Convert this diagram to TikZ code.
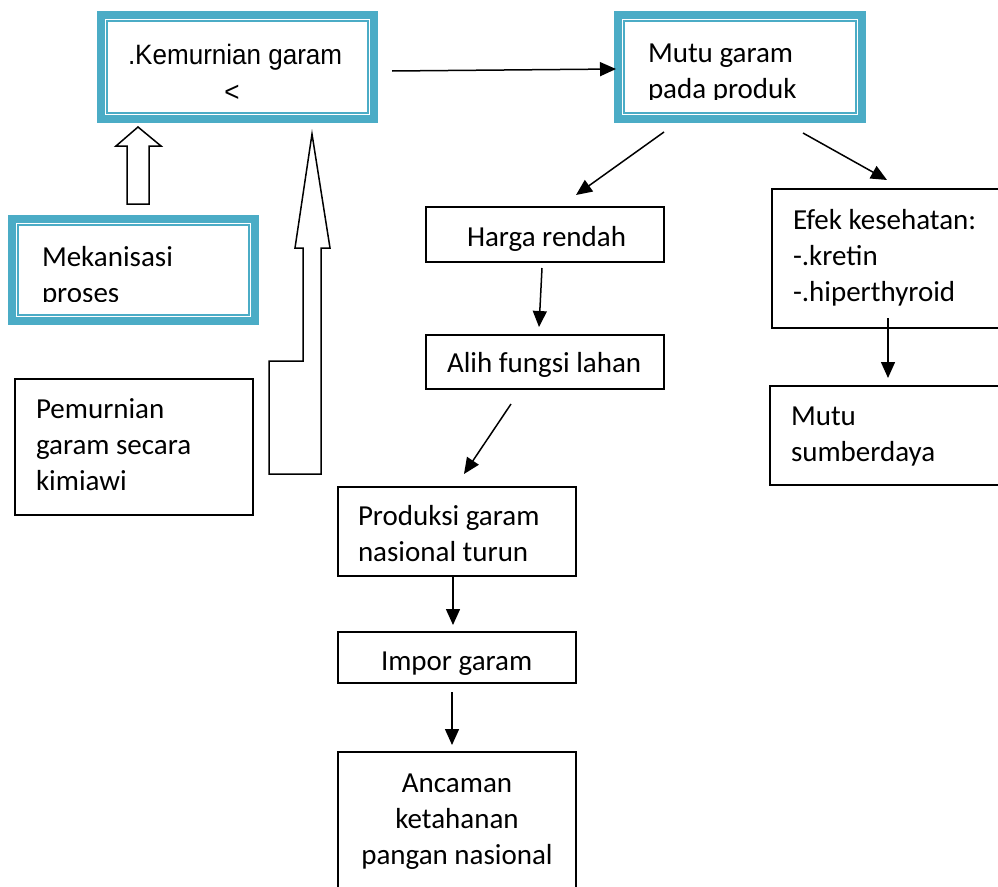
\documentclass[tikz,border=0pt]{standalone}
\usepackage{fontspec}
\setmainfont{Carlito}
\newfontfamily\arialfont[FakeStretch=0.93]{Liberation Sans}
\usetikzlibrary{arrows.meta}
\definecolor{tealA}{HTML}{4BACC6}
\tikzset{
  box/.style={draw=black, line width=1.5pt, inner sep=0pt, outer sep=0pt, fill=white},
  tealbox/.style={draw=tealA, line width=8pt, inner sep=0pt, outer sep=0pt, fill=white},
  tealinner/.style={draw=tealA, line width=1.6pt},
  txt/.style={inner sep=0pt, outer sep=0pt, anchor=base west, font=\fontsize{29}{36}\selectfont},
  ctxt/.style={inner sep=0pt, outer sep=0pt, anchor=base, font=\fontsize{29}{36}\selectfont},
  atxt/.style={inner sep=0pt, outer sep=0pt, anchor=base west, font=\arialfont\fontsize{28}{36}\selectfont},
  conn/.style={line width=1.5pt, -{Triangle[length=16pt,width=14pt]}},
  blockarrow/.style={draw=black, line width=1.5pt, fill=white, line join=miter},
}
\begin{document}
\begin{tikzpicture}[x=1pt,y=-1pt]
\clip (0,0) rectangle (998,886);
\fill[white] (0,0) rectangle (998,886);

% teal framed boxes
\node[tealbox, minimum width=273pt, minimum height=104pt] (kem) at (237.5,67) {};
\draw[tealinner] ([shift={(6.2,6.2)}]kem.north west) rectangle ([shift={(-6.2,-6.2)}]kem.south east);
\node[atxt] (kem-t1) at (128,64) {.Kemurnian garam};
\node[inner sep=0pt, anchor=base, font=\arialfont\fontsize{28}{36}\selectfont] (kem-t2) at (232,101) {<};

\node[tealbox, minimum width=244pt, minimum height=104pt] (mutu) at (740,67) {};
\draw[tealinner] ([shift={(6.2,6.2)}]mutu.north west) rectangle ([shift={(-6.2,-6.2)}]mutu.south east);
\node[txt] (mutu-t1) at (648,62) {Mutu garam};
\begin{scope}
\clip (600,0) rectangle (870,99.5);
\node[txt] (mutu-t2) at (648,98) {pada produk};
\end{scope}

\node[tealbox, minimum width=243pt, minimum height=102pt] (mek) at (133.5,270) {};
\draw[tealinner] ([shift={(6.2,6.2)}]mek.north west) rectangle ([shift={(-6.2,-6.2)}]mek.south east);
\node[txt] (mek-t1) at (42,266) {Mekanisasi};
\begin{scope}
\clip (0,200) rectangle (260,301.5);
\node[txt] (mek-t2) at (42,302) {proses};
\end{scope}

% plain boxes
\node[box, minimum width=238pt, minimum height=136pt] (pem) at (134,447) {};
\node[txt] (pem-t1) at (36,418) {Pemurnian};
\node[txt] (pem-t2) at (36,454) {garam secara};
\node[txt] (pem-t3) at (36,490) {kimiawi};

\node[box, minimum width=238pt, minimum height=55pt] (harga) at (545,234.5) {};
\node[txt] (harga-t) at (467,246) {Harga rendah};

\node[box, minimum width=238pt, minimum height=54pt] (alih) at (545,362) {};
\node[txt] (alih-t) at (447,372) {Alih fungsi lahan};

\node[box, minimum width=240pt, minimum height=139pt] (efek) at (892,258.5) {};
\node[txt] (efek-t1) at (793,229) {Efek kesehatan:};
\node[txt] (efek-t2) at (793,265) {-.kretin};
\node[txt] (efek-t3) at (793,301) {-.hiperthyroid};

\node[box, minimum width=242pt, minimum height=99pt] (msd) at (891,435.5) {};
\node[txt] (msd-t1) at (791,425) {Mutu};
\node[txt] (msd-t2) at (791,461) {sumberdaya};

\node[box, minimum width=238pt, minimum height=89pt] (prod) at (457,531.5) {};
\node[txt] (prod-t1) at (358,525) {Produksi garam};
\node[txt] (prod-t2) at (358,561) {nasional turun};

\node[box, minimum width=238pt, minimum height=51pt] (impor) at (457,657.5) {};
\node[txt] (impor-t) at (381,670) {Impor garam};

\node[box, minimum width=238pt, minimum height=148pt] (anc) at (457,826) {};
\node[ctxt] (anc-t1) at (457,792) {Ancaman};
\node[ctxt] (anc-t2) at (457,828) {ketahanan};
\node[ctxt] (anc-t3) at (457,864) {pangan nasional};

% block arrows
\draw[blockarrow] (127,204) -- (127,146) -- (116,146) -- (138,127) -- (161,146) -- (149,146) -- (149,204) -- cycle;
\draw[blockarrow] (312,134) -- (330,248) -- (321,248) -- (321,474) -- (269,474) -- (269,361) -- (303,361) -- (303,248) -- (295,248) -- cycle;

% connector end points
\coordinate (a1s) at (392,71);  \coordinate (a1e) at (616,69);
\coordinate (a2s) at (664,132); \coordinate (a2e) at (576,195);
\coordinate (a3s) at (803,133); \coordinate (a3e) at (887,180);
\coordinate (a4s) at (542,268); \coordinate (a4e) at (539,327);
\coordinate (a5s) at (511,404); \coordinate (a5e) at (464,474);
\coordinate (a6s) at (453,577); \coordinate (a6e) at (453,625);
\coordinate (a7s) at (452,692); \coordinate (a7e) at (452,745);
\coordinate (a8s) at (888,318); \coordinate (a8e) at (888,378);

\draw[conn] (a1s) -- (a1e);
\draw[conn] (a2s) -- (a2e);
\draw[conn] (a3s) -- (a3e);
\draw[conn] (a4s) -- (a4e);
\draw[conn] (a5s) -- (a5e);
\draw[conn] (a6s) -- (a6e);
\draw[conn] (a7s) -- (a7e);
\draw[conn] (a8s) -- (a8e);
\end{tikzpicture}
\end{document}
